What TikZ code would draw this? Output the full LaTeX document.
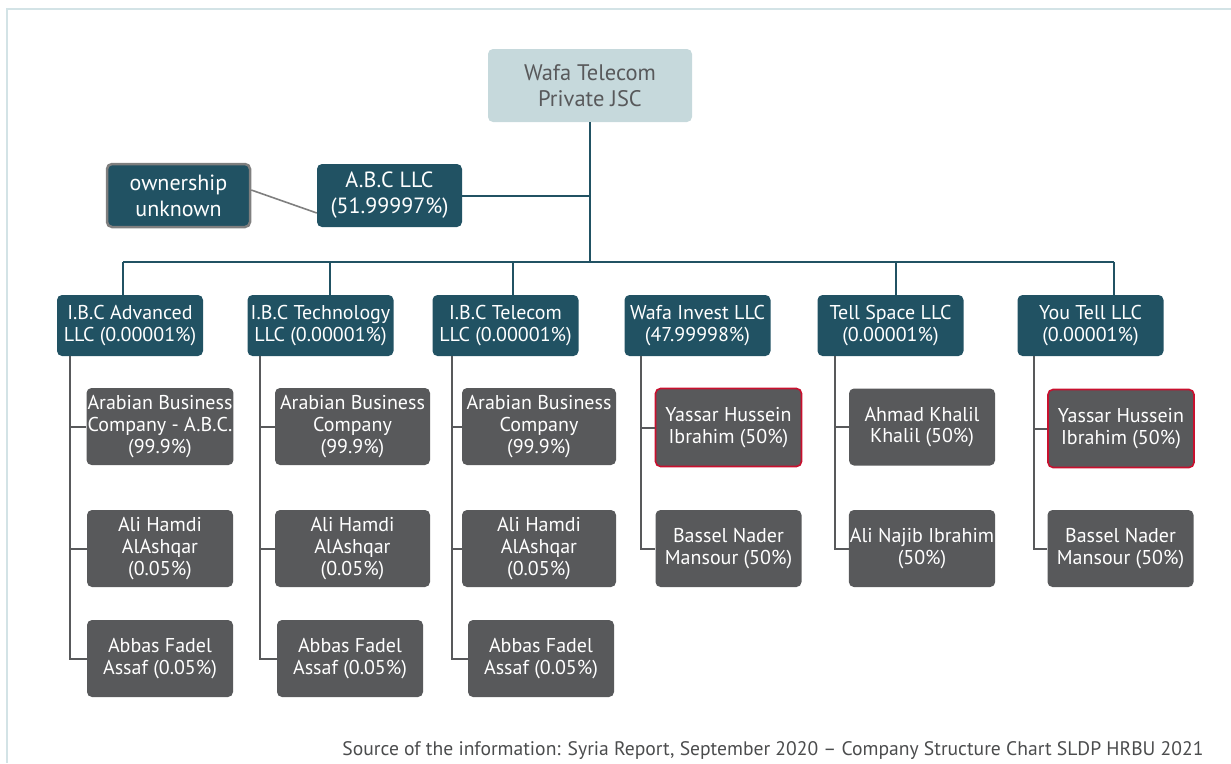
\documentclass[tikz,border=0pt]{standalone}
\usepackage{fontspec}
\setmainfont{PT Sans}
\usetikzlibrary{positioning,calc}
\definecolor{wteal}{HTML}{215263}
\definecolor{wpale}{HTML}{C6D9DC}
\definecolor{wgrey}{HTML}{58595B}
\definecolor{wred}{HTML}{C8102E}
\definecolor{wframe}{HTML}{D3E3E6}
\definecolor{wline}{HTML}{7F7F7F}
\tikzset{
  box/.style    = { rounded corners=5pt, align=center, inner sep=1pt, text=white,
    font=\fontsize{20}{21.8}\selectfont },
  toploc/.style = { box, fill=wpale, text=wgrey, minimum width=204pt, minimum height=73pt,
    font=\fontsize{22.5}{25.5}\selectfont },
  coloc/.style  = { box, fill=wteal, minimum width=146pt, minimum height=61pt,
    font=\fontsize{20}{22.5}\selectfont },
  bigloc/.style = { coloc, minimum height=63pt, font=\fontsize{22}{26}\selectfont },
  perloc/.style = { box, fill=wgrey, minimum width=#1, minimum height=77pt },
  perloc/.default = 146pt,
  redloc/.style = { perloc, draw=wred, line width=1.6pt, minimum height=78pt },
  tln/.style    = { draw=wteal, line width=2pt },
  gln/.style    = { draw=wgrey, line width=2pt }
}

\begin{document}
\begin{tikzpicture}[x=1pt,y=-1pt]
  \useasboundingbox (0,0) rectangle (1231,763);
  \draw[wframe, line width=2.5pt] (7,763) |- (1231,9);
  % top and A.B.C
  \node[toploc] (t0) at (590,85.5) {Wafa Telecom\\Private JSC};
  \node[bigloc, minimum width=145pt] (a0) at (389.5,195.5) {A.B.C LLC\\(51.99997\%)};
  \node[bigloc, draw=wline, line width=2.5pt, minimum width=143pt] (u0) at (178.5,195.5) {ownership\\unknown};
  % companies
  \node[coloc] (c1) at (130,325.5)    {I.B.C Advanced\\LLC (0.00001\%)};
  \node[coloc] (c2) at (320.5,325.5)  {I.B.C Technology\\LLC (0.00001\%)};
  \node[coloc] (c3) at (505.5,325.5)  {I.B.C Telecom\\LLC (0.00001\%)};
  \node[coloc] (c4) at (697.5,325.5)  {Wafa Invest LLC\\(47.99998\%)};
  \node[coloc] (c5) at (890.5,325.5)  {Tell Space LLC\\(0.00001\%)};
  \node[coloc] (c6) at (1090.5,325.5) {You Tell LLC\\(0.00001\%)};
  % owners
  \node[perloc] (p11) at (160,426.5) {Arabian Business\\Company - A.B.C.\\(99.9\%)};
  \node[perloc] (p12) at (160,548.5) {Ali Hamdi\\AlAshqar\\(0.05\%)};
  \node[perloc] (p13) at (160,658.5) {Abbas Fadel\\Assaf (0.05\%)};
  \node[perloc=155pt] (p21) at (352.5,426.5) {Arabian Business\\Company\\(99.9\%)};
  \node[perloc=155pt] (p22) at (352.5,548.5) {Ali Hamdi\\AlAshqar\\(0.05\%)};
  \node[perloc] (p23) at (350,658.5) {Abbas Fadel\\Assaf (0.05\%)};
  \node[perloc=154pt] (p31) at (539,426.5) {Arabian Business\\Company\\(99.9\%)};
  \node[perloc=154pt] (p32) at (539,548.5) {Ali Hamdi\\AlAshqar\\(0.05\%)};
  \node[perloc] (p33) at (541,658.5) {Abbas Fadel\\Assaf (0.05\%)};
  \node[redloc] (p41) at (728.5,427.5) {Yassar Hussein\\Ibrahim (50\%)};
  \node[perloc] (p42) at (728.5,548.5) {Bassel Nader\\Mansour (50\%)};
  \node[perloc] (p51) at (922,427) {Ahmad Khalil\\Khalil (50\%)};
  \node[perloc] (p52) at (922,548.5) {Ali Najib Ibrahim\\(50\%)};
  \node[redloc] (p61) at (1121,428.5) {Yassar Hussein\\Ibrahim (50\%)};
  \node[perloc] (p62) at (1120.5,548.5) {Bassel Nader\\Mansour (50\%)};
  % bus
  \coordinate (b0) at (590,262);
  \coordinate (b1) at (123,262);
  \coordinate (b2) at (330,262);
  \coordinate (b3) at (513,262);
  \coordinate (b5) at (896,262);
  \coordinate (b6) at (1114,262);
  \draw[tln] (t0.south) -- (b0);
  \draw[tln] (a0.east) -- (a0.east -| t0.south);
  \draw[tln] (b1) -- (b6);
  \foreach \b/\c in {b1/c1,b2/c2,b3/c3,b5/c5,b6/c6}
    \draw[tln] (\b) -- (\b |- \c.north);
  \draw[wline, line width=1.6pt] ([yshift=5.5pt]u0.east) -- ([yshift=-17.5pt]a0.west);
  % owner lines
  \coordinate (d1) at (70,356);
  \coordinate (d2) at (260,356);
  \coordinate (d3) at (452,356);
  \coordinate (d4) at (641,356);
  \coordinate (d5) at (835,356);
  \coordinate (d6) at (1034,356);
  \foreach \d/\p in {d1/p11,d1/p12,d1/p13,d2/p21,d2/p22,d2/p23,d3/p31,d3/p32,d3/p33,
      d4/p41,d4/p42,d5/p51,d5/p52,d6/p61,d6/p62}
    \draw[gln] (\d) |- (\p.west);
  \node[anchor=base east, text=wgrey!85!black, font=\fontsize{19.6}{22}\selectfont] (src) at (1207,755)
    {Source of the information: Syria Report, September 2020 -- Company Structure Chart SLDP HRBU 2021};
\end{tikzpicture}
\end{document}
